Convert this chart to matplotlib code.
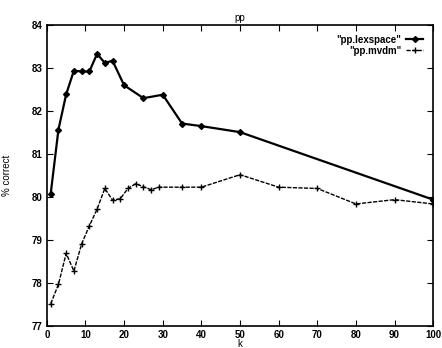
import matplotlib
matplotlib.use("Agg")
import matplotlib.pyplot as plt

# values
k_lexspace = [1, 3, 5, 7, 9, 11, 13, 15, 17, 20, 25, 30, 35, 40, 50, 100]
pct_lexspace = [80.08, 81.57, 82.39, 82.94, 82.92, 82.92, 83.33, 83.12, 83.17,
                82.60, 82.30, 82.38, 81.71, 81.65, 81.51, 79.94]

k_mvdm = [1, 3, 5, 7, 9, 11, 13, 15, 17, 19, 21, 23, 25, 27, 29, 35, 40,
          50, 60, 70, 80, 90, 100]
pct_mvdm = [77.52, 77.97, 78.69, 78.28, 78.91, 79.33, 79.72, 80.20, 79.93,
            79.96, 80.20, 80.31, 80.24, 80.17, 80.23, 80.23, 80.23,
            80.52, 80.23, 80.20, 79.84, 79.94, 79.84]

x_ticks = [0, 10, 20, 30, 40, 50, 60, 70, 80, 90, 100]
y_ticks = [77, 78, 79, 80, 81, 82, 83, 84]

plt.rcParams["font.family"] = ["Liberation Sans", "DejaVu Sans"]
plt.rcParams["font.weight"] = "bold"

fig = plt.figure(figsize=(4.42, 3.48), dpi=100)
ax = fig.add_axes([0.106, 0.063, 0.874, 0.865])

ax.plot(k_lexspace, pct_lexspace, color="black", linewidth=1.6, marker="D",
        markersize=3.0, label='"pp.lexspace"')
ax.plot(k_mvdm, pct_mvdm, color="black", linewidth=1.0, linestyle=(0, (3, 1)),
        marker="+", markersize=5, markeredgewidth=1.0, label='"pp.mvdm"')

ax.set_xlim(0, 100)
ax.set_ylim(77, 84)
ax.set_xticks(x_ticks)
ax.set_yticks(y_ticks)
ax.tick_params(direction="in", top=True, right=True, labelsize=7, length=4, pad=3)
for spine in ax.spines.values():
    spine.set_linewidth(1.2)

ax.set_title("pp", fontsize=7, pad=3)
ax.set_xlabel("k", fontsize=7, labelpad=-1)
ax.set_ylabel("% correct", fontsize=7, labelpad=14)

ax.legend(loc="upper right", frameon=False, markerfirst=False, fontsize=7,
          handlelength=1.8, handletextpad=0.5, labelspacing=0.1,
          borderaxespad=0.6)

fig.savefig("out.png", dpi=100)
